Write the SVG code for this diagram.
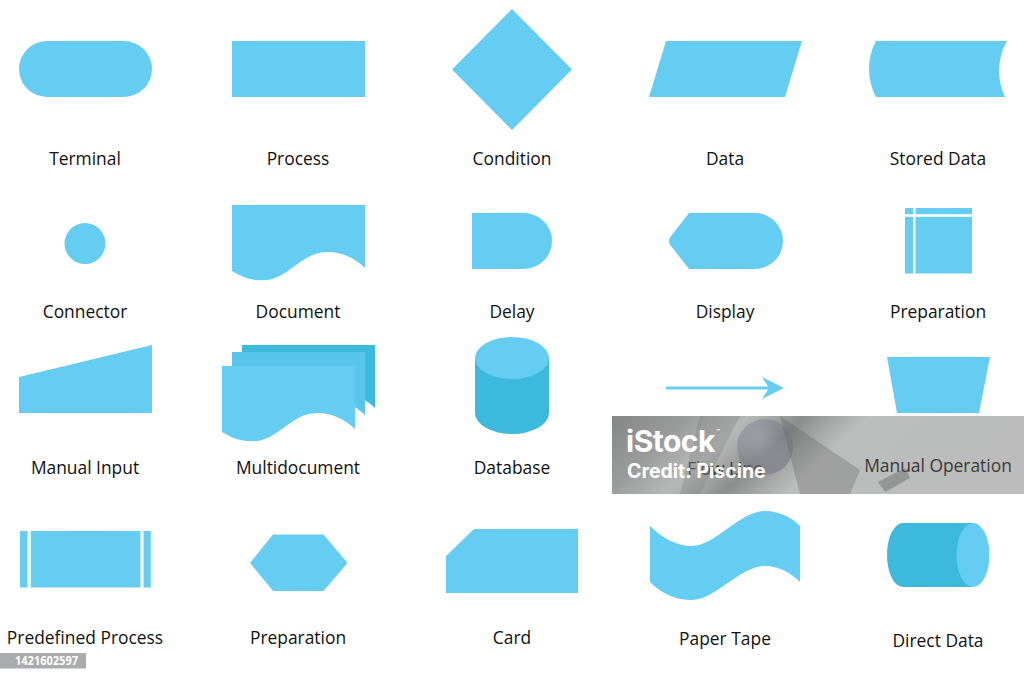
<svg xmlns="http://www.w3.org/2000/svg" width="1024" height="682" viewBox="0 0 1024 682">
<style>
.s{fill:#66cdf2}
.d{fill:#3cb9dd}
.m{fill:#58c6ea}
.w{fill:#ffffff}
.lbl{font-family:"Open Sans","Noto Sans","Liberation Sans",sans-serif;font-size:17.4px;fill:#111111;text-anchor:middle}
.wm{font-family:"Inter","Open Sans","Liberation Sans",sans-serif;font-weight:700;fill:#ffffff}
</style>
<defs>
<path id="doc" d="M232,205 H365 V268 C350,253 330,249 315,254 C298,260 285,278 267,280 C255,281 245,279 232,271 Z"/>
<linearGradient id="wmg" x1="0" y1="0" x2="1" y2="0.2">
<stop offset="0" stop-color="#555757" stop-opacity="0.72"/>
<stop offset="0.18" stop-color="#5c5e5e" stop-opacity="0.62"/>
<stop offset="0.32" stop-color="#707272" stop-opacity="0.5"/>
<stop offset="0.45" stop-color="#3e4242" stop-opacity="0.6"/>
<stop offset="0.6" stop-color="#6a6c6c" stop-opacity="0.45"/>
<stop offset="0.8" stop-color="#5e6060" stop-opacity="0.42"/>
<stop offset="1" stop-color="#6a6a6a" stop-opacity="0.45"/>
</linearGradient>
<radialGradient id="cg" cx="0.4" cy="0.4" r="0.6">
<stop offset="0" stop-color="#9a9aaa"/>
<stop offset="1" stop-color="#6a6a7a"/>
</radialGradient>
</defs>
<rect width="1024" height="682" fill="#ffffff"/>

<g id="terminal">
<rect class="s" x="19" y="41" width="133" height="56" rx="28"/>
<text class="lbl" x="85" y="165">Terminal</text>
</g>
<g id="process">
<rect class="s" x="232" y="41" width="133" height="56"/>
<text class="lbl" x="298" y="165">Process</text>
</g>
<g id="condition">
<polygon class="s" points="512,9 572,69.5 512,130 452,69.5"/>
<text class="lbl" x="512" y="165">Condition</text>
</g>
<g id="data">
<polygon class="s" points="666,41 802,41 785,97 649,97"/>
<text class="lbl" x="725" y="165">Data</text>
</g>
<g id="stored-data">
<path class="s" d="M876,41 H1007 A60,60 0 0 0 1005,97 H876 A59.5,59.5 0 0 1 876,41 Z"/>
<text class="lbl" x="938" y="165">Stored Data</text>
</g>

<g id="connector">
<circle class="s" cx="85" cy="243.5" r="20.5"/>
<text class="lbl" x="85" y="318">Connector</text>
</g>
<g id="document">
<use href="#doc" class="s"/>
<text class="lbl" x="298" y="318">Document</text>
</g>
<g id="delay">
<path class="s" d="M472,213 H524 A28,28 0 0 1 524,269 H472 Z"/>
<text class="lbl" x="512" y="318">Delay</text>
</g>
<g id="display">
<path class="s" d="M689,213 H755 A28,28 0 0 1 755,269 H689 L671,246 Q667,241 671,236 Z"/>
<text class="lbl" x="725" y="318">Display</text>
</g>
<g id="preparation-1">
<rect class="s" x="905" y="208" width="67" height="65.5"/>
<rect class="w" x="913" y="208" width="2.6" height="65.5"/>
<rect class="w" x="905" y="214.2" width="67" height="2.6"/>
<text class="lbl" x="938" y="318">Preparation</text>
</g>

<g id="manual-input">
<polygon class="s" points="19,377 152,345 152,413 19,413"/>
<text class="lbl" x="85" y="474">Manual Input</text>
</g>
<g id="multidocument">
<use href="#doc" class="d" transform="translate(10,140)"/>
<use href="#doc" class="m" transform="translate(0,147)"/>
<use href="#doc" class="s" transform="translate(-10,161)"/>
<text class="lbl" x="298" y="474">Multidocument</text>
</g>
<g id="database">
<path class="d" d="M475,358 V413 A37,21 0 0 0 549,413 V358 Z"/>
<ellipse class="s" cx="512" cy="358" rx="37" ry="21"/>
<text class="lbl" x="512" y="474">Database</text>
</g>
<g id="flow-line">
<text class="lbl" x="725" y="475">Flow Line</text>
</g>
<g id="manual-operation">
<polygon class="s" points="887,357 990,357 979,413 897,413"/>
<text class="lbl" x="938" y="472">Manual Operation</text>
</g>

<g id="connectors">
<line x1="666" y1="388" x2="770" y2="388" stroke="#66cdf2" stroke-width="3"/>
<polygon class="s" points="784,388 762,377 769,388 762,399"/>
</g>

<g id="predefined-process">
<rect class="s" x="20" y="531" width="7.5" height="56.5"/>
<rect class="s" x="30.7" y="531" width="109.7" height="56.5"/>
<rect class="s" x="143.6" y="531" width="7.2" height="56.5"/>
<text class="lbl" x="85" y="644">Predefined Process</text>
</g>
<g id="preparation-2">
<polygon class="s" points="273,534.5 323.5,534.5 347.5,563 323.5,591 273,591 250,563"/>
<text class="lbl" x="298" y="644">Preparation</text>
</g>
<g id="card">
<polygon class="s" points="474,529 578,529 578,593 446,593 446,556"/>
<text class="lbl" x="512" y="644">Card</text>
</g>
<g id="paper-tape">
<path class="s" d="M650,526 C662,538 676,546 692,546 C715,546 740,511 765,511 C780,511 792,518 800,526 V582 C792,574 780,566 765,566 C740,566 715,600 692,600 C676,600 662,594 650,582 Z"/>
<text class="lbl" x="725" y="645">Paper Tape</text>
</g>
<g id="direct-data">
<path class="d" d="M903,523 H973 V587 H903 A16,32 0 0 1 903,523 Z"/>
<ellipse class="s" cx="973" cy="555" rx="16.5" ry="32"/>
<text class="lbl" x="938" y="647">Direct Data</text>
</g>

<g id="watermark">
<rect x="612" y="416" width="412" height="78" fill="url(#wmg)"/>
<polygon points="700,416 740,416 700,494 680,494" fill="#7a7a7a" opacity="0.3"/>
<polygon points="780,416 860,470 850,494 800,494" fill="#4a4c4c" opacity="0.25"/>
<circle cx="765" cy="447" r="28" fill="url(#cg)" opacity="0.45"/>
<polygon points="878,482 905,468 910,478 885,492" fill="#5a5a5a" opacity="0.4"/>
<text class="wm" x="626" y="452" font-size="30" letter-spacing="-0.5">iStock</text>
<text class="wm" x="716" y="434" font-size="6">™</text>
<text class="wm" x="627" y="478" font-size="19.5">Credit: Piscine</text>
</g>
<g id="id-label">
<rect x="0" y="653" width="86" height="15.5" fill="#a9abad"/>
<text x="15" y="665" font-family="'Open Sans','Liberation Sans',sans-serif" font-weight="700" font-size="12" textLength="63" lengthAdjust="spacingAndGlyphs" fill="#ffffff">1421602597</text>
</g>
</svg>
